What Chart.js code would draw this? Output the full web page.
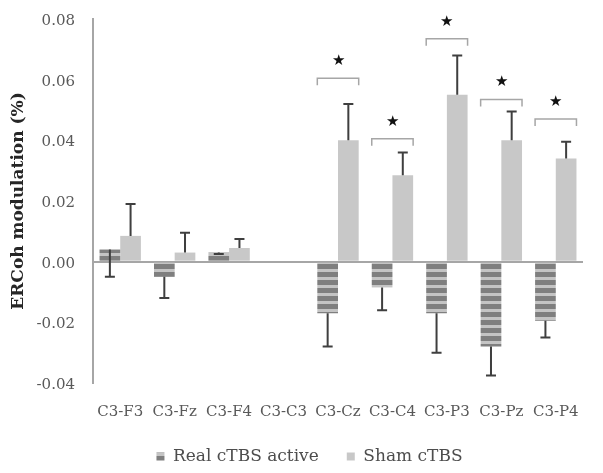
<!DOCTYPE html>
<html>
<head>
<meta charset="utf-8">
<script src="https://cdn.jsdelivr.net/npm/chart.js@4.4.1/dist/chart.umd.min.js"></script>
<style>
  html, body { margin: 0; padding: 0; background: #fff; }
  #wrap { width: 603px; height: 473px; }
</style>
</head>
<body>
<div id="wrap"><canvas id="chart" width="603" height="473"></canvas></div>
<script>
// values
const pairs = ['C3-F3', 'C3-Fz', 'C3-F4', 'C3-C3', 'C3-Cz', 'C3-C4', 'C3-P3', 'C3-Pz', 'C3-P4'];
const realActive = [0.004, -0.005, 0.003, null, -0.017, -0.0085, -0.017, -0.028, -0.0195];
const realErr = [0.009, 0.007, 0.0005, null, 0.011, 0.0075, 0.013, 0.0095, 0.0055];
const sham = [0.0085, 0.003, 0.0045, null, 0.040, 0.0285, 0.055, 0.040, 0.034];
const shamErr = [0.0105, 0.0065, 0.003, null, 0.012, 0.0075, 0.013, 0.0095, 0.0055];
// significance brackets (null = none)
const bracketAt = [null, null, null, null, 0.0605, 0.0405, 0.0735, 0.0535, 0.047];
const yTicks = [-0.04, -0.02, 0, 0.02, 0.04, 0.06, 0.08];

const SERIF = '"DejaVu Serif", "Liberation Serif", serif';

function stripes() {
    const c = document.createElement('canvas');
    c.width = 8; c.height = 8;
    const g = c.getContext('2d');
    g.fillStyle = '#c4c4c4';
    g.fillRect(0, 0, 8, 8);
    g.fillStyle = '#7f7f7f';
    g.fillRect(0, 0, 8, 5);
    return g.createPattern(c, 'repeat');
}

// wide gap between legend items without making the legend taller
const legendFix = {
    id: 'legendFix',
    beforeLayout(chart) {
        const lg = chart.legend;
        if (lg && !lg._patched) {
            const fit = lg.fit;
            lg.fit = function () { fit.call(this); this.height = 50; };
            lg._patched = true;
        }
    },
    afterLayout(chart) {
        const lg = chart.legend;
        if (!lg) return;
        lg.top -= 3;
        lg.left += 18;
        lg.right += 18;
    }
};

const extras = {
    id: 'extras',
    afterDatasetsDraw(chart) {
        const ctx = chart.ctx;
        const y = chart.scales.y;
        const errs = [realErr, shamErr];
        ctx.save();
        ctx.strokeStyle = '#3f3f3f';
        ctx.lineWidth = 2;
        errs.forEach((err, di) => {
            const meta = chart.getDatasetMeta(di);
            const vals = chart.data.datasets[di].data;
            meta.data.forEach((bar, i) => {
                if (vals[i] == null || err[i] == null) return;
                // real series: minus direction, sham: plus direction
                const end = di === 0 ? vals[i] - err[i] : vals[i] + err[i];
                const y0 = y.getPixelForValue(vals[i]);
                const y1 = y.getPixelForValue(end);
                ctx.beginPath();
                ctx.moveTo(bar.x, y0);
                ctx.lineTo(bar.x, y1);
                ctx.moveTo(bar.x - 5, y1);
                ctx.lineTo(bar.x + 5, y1);
                ctx.stroke();
            });
        });
        // brackets and stars
        const m0 = chart.getDatasetMeta(0), m1 = chart.getDatasetMeta(1);
        ctx.strokeStyle = '#a6a6a6';
        ctx.lineWidth = 1.5;
        ctx.fillStyle = '#111';
        ctx.font = '15px ' + SERIF;
        ctx.textAlign = 'center';
        ctx.textBaseline = 'middle';
        bracketAt.forEach((v, i) => {
            if (v == null) return;
            const left = m0.data[i].x - m0.data[i].width / 2;
            const right = m1.data[i].x + m1.data[i].width / 2;
            const by = y.getPixelForValue(v);
            ctx.beginPath();
            ctx.moveTo(left, by + 7);
            ctx.lineTo(left, by);
            ctx.lineTo(right, by);
            ctx.lineTo(right, by + 7);
            ctx.stroke();
            ctx.fillText('\u2605', (left + right) / 2, by - 17);
        });
        ctx.restore();
    }
};

new Chart(document.getElementById('chart'), {
    type: 'bar',
    data: {
        labels: pairs,
        datasets: [
            { label: 'Real cTBS active', data: realActive, backgroundColor: stripes() },
            { label: 'Sham cTBS', data: sham, backgroundColor: '#c8c8c8' }
        ]
    },
    options: {
        responsive: false,
        animation: false,
        layout: { padding: { left: 0, right: 20, top: 19, bottom: 0 } },
        datasets: { bar: { categoryPercentage: 0.76, barPercentage: 1.0 } },
        plugins: {
            tooltip: { enabled: false },
            legend: {
                position: 'bottom',
                labels: {
                    boxWidth: 8, boxHeight: 8,
                    padding: 28,
                    color: '#4d4d4d',
                    font: { family: SERIF, size: 17 }
                }
            }
        },
        scales: {
            x: {
                afterFit: (s) => { s.height = 40; },
                grid: { display: false },
                border: { display: false },
                ticks: { color: '#595959', font: { family: SERIF, size: 15 }, maxRotation: 0, autoSkip: false, padding: 12 }
            },
            y: {
                min: -0.04, max: 0.08,
                afterFit: (s) => { s.width = 93; s.paddingTop = 0; s.paddingBottom = 0; },
                afterBuildTicks: (s) => { s.ticks = yTicks.map(v => ({ value: v })); },
                grid: {
                    drawTicks: false,
                    color: (c) => c.tick && c.tick.value === 0 ? '#a6a6a6' : 'rgba(0,0,0,0)',
                    lineWidth: 2
                },
                border: { display: true, color: '#a6a6a6', width: 2 },
                ticks: {
                    color: '#595959', padding: 18, labelOffset: 2,
                    font: { family: SERIF, size: 15 },
                    callback: (v) => v.toFixed(2)
                },
                title: {
                    display: true, text: 'ERCoh modulation (%)',
                    color: '#262626',
                    padding: { top: 8, bottom: 0 },
                    font: { family: SERIF, size: 17, weight: 'bold' }
                }
            }
        }
    },
    plugins: [extras, legendFix]
});
</script>
</body>
</html>
